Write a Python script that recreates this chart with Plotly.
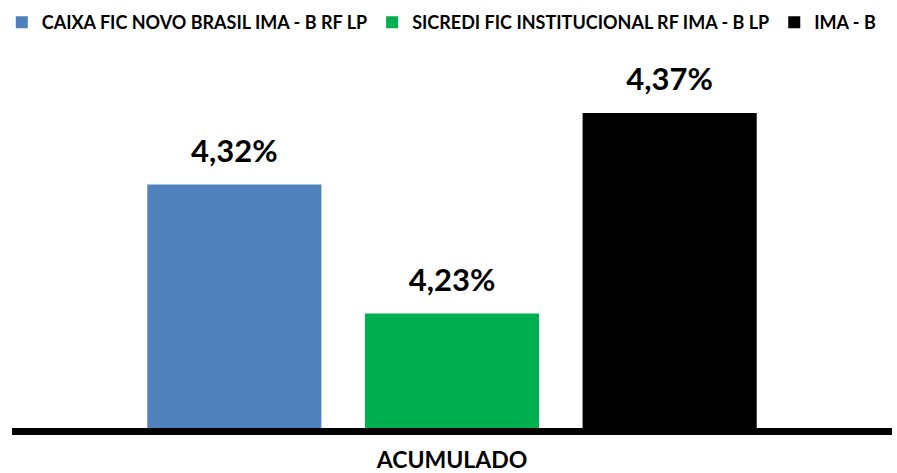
import plotly.graph_objects as go

categories = ["ACUMULADO"]
series_names = ["CAIXA FIC NOVO BRASIL IMA - B RF LP", "SICREDI FIC INSTITUCIONAL RF IMA - B LP", "IMA - B"]
series_values = [[4.32], [4.23], [4.37]]
series_labels = ["4,32%", "4,23%", "4,37%"]
colors = ["#4F81BD", "#00B050", "#000000"]

FONT = "Lato, Open Sans, sans-serif"

fig = go.Figure()
for i, (name, vals, col) in enumerate(zip(series_names, series_values, colors)):
    fig.add_trace(go.Bar(
        x=categories, y=vals, name=name, marker=dict(color=col, line=dict(width=0)),
        offsetgroup=str(i),
    ))
for i, (vals, lab) in enumerate(zip(series_values, series_labels)):
    fig.add_trace(go.Scatter(
        x=categories, y=vals, mode="markers+text", text=[lab], textposition="top center",
        marker=dict(size=22, color="rgba(0,0,0,0)"), offsetgroup=str(i),
        textfont=dict(family=FONT, size=31, color="#000000", weight="bold"),
        showlegend=False, hoverinfo="skip", cliponaxis=False,
    ))

fig.update_layout(
    width=897, height=473,
    margin=dict(l=12, r=5, t=60, b=45, autoexpand=False),
    paper_bgcolor="white", plot_bgcolor="white",
    barmode="group", bargap=0.258, bargroupgap=0.2,
    scattermode="group", scattergap=0.258,
    font=dict(family=FONT, color="#000000", weight="bold"),
    showlegend=True,
    legend=dict(orientation="h", x=0.002, xref="container", xanchor="left",
                y=1.152, yanchor="top",
                font=dict(family=FONT, size=18, color="#000000", weight="bold"),
                traceorder="normal", itemwidth=30),
    xaxis=dict(showline=True, linecolor="#000000", linewidth=7, ticks="",
               ticklabelstandoff=5,
               tickfont=dict(family=FONT, size=23, color="#000000", weight="bold"), showgrid=False),
    yaxis=dict(range=[4.15, 4.407], visible=False, showgrid=False, zeroline=False),
)
fig.write_html("out.html", config={"displayModeBar": False},
               post_script="document.body.style.margin='0';")
